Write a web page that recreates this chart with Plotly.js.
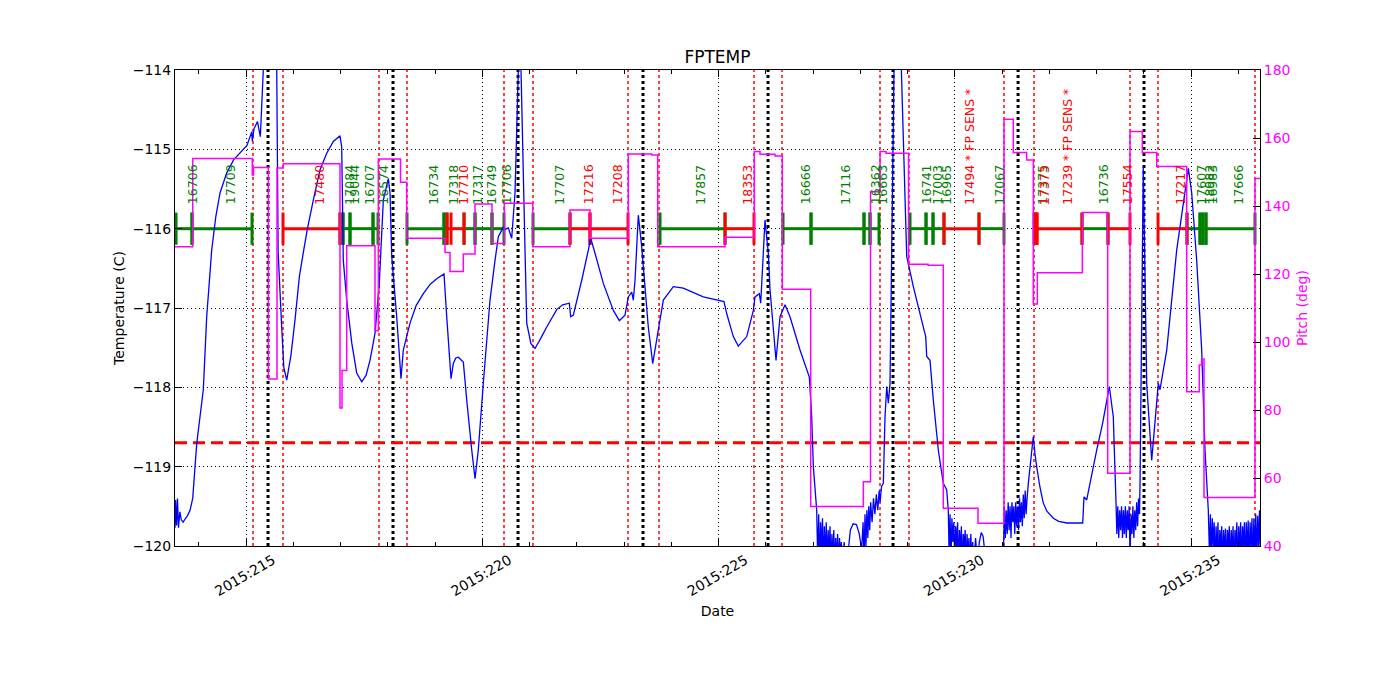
<!DOCTYPE html>
<html><head><meta charset="utf-8">
<script src="https://cdn.plot.ly/plotly-3.0.1.min.js"></script>
<style>body{margin:0;background:#fff}#chart{width:1400px;height:700px}</style>
</head><body><div id="chart"></div>
<script>
// ---- axis limits / constants ----
const xRange = [213.497, 236.46];
const yRange = [-120, -114];
const pitchRange = [40, 180];
const tempLimit = -118.7;
const obsLevel = -116;
const labelBase = -115.71;
const yearPrefix = '2015:';

// ---- perigee times (black dotted) and radiation zone boundaries (red dotted) ----
const perigeeDays = [215.466, 218.111, 220.757, 223.402, 226.048, 228.693, 231.34, 234.005];
const radzoneDays = [215.148, 215.783, 217.815, 218.407, 220.460, 221.074, 223.085, 223.741,
  225.751, 226.344, 228.418, 229.032, 231.042, 231.677, 233.709, 234.302, 236.354];

// ---- observations ----
const obsStart = [213.519, 213.857, 215.783, 216.989, 217.053, 217.201, 217.688, 218.407, 219.190, 219.254,
  219.614, 219.847, 220.206, 221.074, 221.857, 222.280, 223.762, 225.138, 226.365, 226.958, 228.079, 228.206,
  229.053, 229.392, 229.540, 229.772, 230.513, 231.677, 231.698, 231.740, 232.693, 233.243, 234.302, 234.915,
  235.190, 235.250, 235.317];
const obsEnd = [213.857, 215.127, 216.989, 217.053, 217.201, 217.688, 217.794, 219.190, 219.254, 219.614,
  219.847, 220.206, 220.460, 221.857, 222.280, 223.085, 225.138, 225.751, 226.958, 228.079, 228.206, 228.397,
  229.392, 229.540, 229.772, 230.513, 231.042, 231.698, 231.740, 232.693, 233.243, 233.709, 234.915, 235.190,
  235.250, 235.317, 236.354];
const obsLabel = ['16706','17709','17480','17084','19044','16707','16574','16734','17318','17710',
  '17317','16749','17706','17707','17216','17208','17857','18353','16666','17116','16362','16663',
  '16741','17003','16965','17494 * FP SENS *','17067','17375','17373','17239 * FP SENS *','16736','17554','17217','17607',
  '18982','16983','17666'];
const obsKind = ['g','g','r','g','g','g','g','g','g','r',
  'g','g','g','g','r','r','g','r','g','g','g','g',
  'g','g','g','r','g','g','r','r','g','r','r','g',
  'g','g','g'];
const extraTickDays = [219.339];
const extraTickKind = ['r'];

// ---- pitch (deg), step function ----
const pitchDays = [213.497, 213.872, 215.133, 215.159, 215.472, 215.656, 215.789, 216.989, 217.032, 217.131,
  217.730, 217.800, 218.270, 218.401, 219.212, 219.317, 219.599, 219.847, 220.206, 220.467,
  221.068, 221.857, 222.280, 223.091, 223.586, 223.713, 225.138, 225.758, 225.878, 226.196,
  226.350, 226.951, 228.065, 228.217, 228.418, 228.545, 229.021, 229.434, 229.757, 230.492,
  231.042, 231.239, 231.522, 231.662, 231.747, 232.700, 233.237, 233.709, 233.969, 234.274,
  234.909, 235.175, 235.226, 235.275, 236.354, 236.46];
const pitchVals = [128.0, 154.0, 149.1, 151.3, 89.1, 151.2, 152.4, 80.6, 91.6, 128.3,
  103.3, 153.8, 147.0, 130.5, 126.3, 120.7, 125.9, 140.6, 129.0, 140.8,
  128.0, 138.8, 130.5, 155.3, 155.0, 128.0, 130.8, 156.0, 155.2, 154.7,
  115.5, 51.6, 58.9, 144.2, 156.0, 155.5, 122.9, 122.6, 51.1, 46.7,
  165.5, 155.7, 153.5, 111.2, 120.4, 138.1, 61.4, 161.9, 155.7, 151.6,
  85.4, 93.2, 95.0, 54.3, 148.1, 148.1];

// ---- FPTEMP (C) as [day, value] ----
const tempStart = [[213.497,-119.77],[213.51,-119.42],[213.53,-119.74],[213.55,-119.40],[213.57,-119.77],[213.60,-119.57],
  [213.63,-119.67],[213.67,-119.70],[213.71,-119.66],[213.76,-119.62],[213.815,-119.55],[213.872,-119.40],[213.957,-118.71],
  [214.096,-118.03],[214.168,-117.11],[214.274,-116.27],[214.36,-115.85],[214.45,-115.55],[214.59,-115.30],[214.74,-115.13],
  [215.02,-114.95],[215.121,-114.78],[215.133,-114.90],[215.169,-114.74],[215.243,-114.65],[215.303,-114.84],[215.366,-114.0],
  [215.40,-113.0],[215.62,-113.0],[215.650,-114.0],[215.68,-116.3],[215.76,-117.3],[215.80,-117.75],[215.861,-117.91],
  [215.95,-117.6],[216.037,-117.15],[216.13,-116.6],[216.213,-116.3],[216.30,-116.0],[216.424,-115.64],[216.566,-115.26],
  [216.708,-115.05],[216.848,-114.90],[216.989,-114.83],[217.025,-114.97],[217.059,-116.4],[217.131,-116.90],[217.24,-117.45],
  [217.343,-117.82],[217.449,-117.93],[217.54,-117.85],[217.624,-117.66],[217.730,-117.32],[217.821,-116.69],[217.906,-115.64],
  [218.012,-115.37],[218.048,-115.55],[218.084,-116.35],[218.189,-117.11],[218.280,-117.89],[218.329,-117.53],[218.471,-117.19],
  [218.60,-116.97],[218.752,-116.82],[218.90,-116.70],[219.036,-116.63],[219.190,-116.57],[219.248,-117.11],[219.339,-117.89],
  [219.387,-117.70],[219.44,-117.63],[219.493,-117.62],[219.599,-117.68],[219.671,-118.16],[219.777,-118.79],[219.847,-119.15],
  [219.916,-118.79],[220.022,-117.95],[220.164,-116.90],[220.270,-116.40],[220.340,-116.10],[220.446,-115.98],[220.481,-116.01],
  [220.551,-115.99],[220.623,-116.12],[220.693,-115.55],[220.763,-114.0],[220.78,-113.0],[220.80,-113.0],[220.82,-114.0],
  [220.91,-116.4],[220.941,-117.19],[221.03,-117.45],[221.116,-117.51],[221.24,-117.38],[221.364,-117.24],[221.576,-117.02],
  [221.70,-116.96],[221.842,-116.94],[221.872,-117.11],[221.927,-117.09],[222.105,-116.65],[222.245,-116.27],[222.295,-116.12],
  [222.386,-116.31],[222.562,-116.69],[222.774,-117.03],[222.901,-117.16],[223.021,-117.09],[223.091,-116.86],[223.163,-116.80],
  [223.197,-116.90],[223.233,-116.65],[223.303,-115.83],[223.375,-116.23],[223.409,-116.48],[223.514,-117.24],[223.607,-117.70],
  [223.692,-117.40],[223.832,-116.90],[224.044,-116.73],[224.255,-116.75],[224.678,-116.86],[225.116,-116.92],[225.173,-117.07],
  [225.313,-117.36],[225.419,-117.48],[225.597,-117.36],[225.737,-117.03],[225.772,-116.86],[225.864,-116.82],[225.893,-116.94],
  [225.984,-115.89],[226.054,-116.31],[226.090,-116.77],[226.217,-117.66],[226.302,-117.11],[226.407,-116.96],[226.513,-117.11],
  [226.725,-117.53],[226.922,-117.87],[226.972,-118.37],[227.007,-119.0],[227.078,-119.55]];
const noiseA = [[227.10,-120.2],[227.12,-119.6],[227.14,-120.3],[227.16,-119.7],[227.18,-120.1],[227.20,-119.65],[227.22,-120.3],
  [227.24,-119.75],[227.26,-120.2],[227.28,-119.7],[227.30,-120.3],[227.32,-119.8],[227.34,-120.1],[227.36,-119.75],[227.38,-120.3],
  [227.40,-119.85],[227.42,-120.2],[227.44,-119.8],[227.46,-120.3],[227.48,-119.9],[227.50,-120.2],[227.52,-119.85],[227.54,-120.3],
  [227.56,-119.9],[227.58,-120.1],[227.60,-119.95],[227.62,-120.3],[227.66,-119.95],[227.70,-120.3],[227.74,-120.1],[227.79,-119.8],
  [227.85,-119.72],[227.92,-119.73],[227.98,-119.85],[228.03,-120.05],[228.06,-119.7],[228.08,-120.2],[228.10,-119.6],[228.12,-120.0],
  [228.14,-119.55],[228.16,-119.9],[228.18,-119.5],[228.20,-119.8],[228.22,-119.45],[228.25,-119.7],[228.28,-119.4],[228.31,-119.6],
  [228.34,-119.35],[228.37,-119.55],[228.40,-119.3],[228.42,-119.45],[228.45,-119.25]];
const tempMid1 = [[228.488,-119.21],[228.524,-118.37],[228.560,-117.99],[228.594,-118.20],[228.630,-117.95],[228.666,-116.27],
  [228.714,-114.0],[228.74,-113.0],[228.84,-113.0],[228.87,-114.0],[228.983,-116.35],[229.123,-116.73],[229.335,-117.24],
  [229.385,-117.36],[229.406,-117.61],[229.476,-117.66],[229.546,-118.16],[229.652,-118.79],[229.757,-119.21],[229.829,-119.29],
  [229.863,-119.55]];
const noiseB = [[229.88,-120.1],[229.90,-119.6],[229.92,-120.2],[229.94,-119.65],[229.96,-119.95],[229.98,-119.7],[230.00,-120.2],
  [230.02,-119.75],[230.04,-120.0],[230.06,-119.7],[230.08,-120.3],[230.10,-119.8],[230.12,-120.1],[230.14,-119.75],[230.16,-120.3],
  [230.18,-119.85],[230.20,-120.0],[230.22,-119.8],[230.24,-120.3],[230.26,-119.85],[230.28,-120.1],[230.30,-119.9],[230.32,-120.3],
  [230.34,-119.85],[230.36,-120.2],[230.38,-119.95],[230.40,-120.3],[230.44,-119.9],[230.48,-120.2],[230.52,-119.95],[230.56,-119.83],
  [230.60,-119.88],[230.64,-120.1],[230.68,-120.4],[230.95,-120.4],[231.03,-120.1],[231.05,-119.5],[231.07,-119.9],[231.09,-119.55],
  [231.11,-119.85],[231.13,-119.45],[231.15,-119.8],[231.17,-119.5],[231.19,-119.9],[231.21,-119.45],[231.23,-119.7],[231.25,-119.5],
  [231.27,-119.85],[231.29,-119.45],[231.31,-119.75],[231.33,-119.5],[231.35,-119.8],[231.37,-119.4],[231.39,-119.7],[231.41,-119.45],
  [231.43,-119.75],[231.45,-119.35],[231.47,-119.65],[231.49,-119.3],[231.51,-119.6],[231.53,-119.4]];
const tempMid2 = [[231.557,-119.21],[231.662,-118.62],[231.70,-118.85],[231.734,-119.0],[231.80,-119.25],[231.874,-119.46],
  [231.95,-119.56],[232.086,-119.65],[232.20,-119.69],[232.369,-119.71],[232.708,-119.71],[232.735,-119.38],[232.792,-119.42],
  [233.004,-118.79],[233.13,-118.45],[233.271,-117.99],[233.355,-118.37],[233.413,-119.46]];
const noiseC = [[233.43,-119.85],[233.45,-119.5],[233.47,-119.9],[233.49,-119.55],[233.51,-119.8],[233.53,-119.5],[233.55,-119.9],
  [233.57,-119.55],[233.59,-119.85],[233.61,-119.5],[233.63,-119.9],[233.65,-119.55],[233.67,-119.8],[233.69,-119.5],[233.71,-120.1],
  [233.73,-119.6],[233.75,-119.85],[233.77,-119.5],[233.79,-119.9],[233.81,-119.55],[233.83,-119.8],[233.85,-119.45],[233.87,-119.75],
  [233.89,-119.4],[233.91,-119.6]];
const tempMid3 = [[233.921,-119.21],[233.99,-115.22],[234.062,-117.95],[234.168,-118.92],[234.308,-117.95],[234.344,-118.03],
  [234.486,-117.53],[234.697,-116.27],[234.943,-115.24],[235.015,-115.55],[235.120,-116.40],[235.226,-117.53],[235.296,-118.79],
  [235.366,-119.55]];
const noiseD = [[235.39,-120.1],[235.41,-119.6],[235.43,-120.2],[235.45,-119.65],[235.47,-120.0],[235.49,-119.7],[235.51,-120.3],
  [235.53,-119.75],[235.55,-120.1],[235.57,-119.7],[235.59,-120.3],[235.61,-119.8],[235.63,-120.0],[235.65,-119.75],[235.67,-120.3],
  [235.69,-119.8],[235.71,-120.1],[235.73,-119.78],[235.75,-120.3],[235.77,-119.8],[235.79,-120.0],[235.81,-119.75],[235.83,-120.3],
  [235.85,-119.8],[235.87,-120.1],[235.89,-119.75],[235.91,-120.3],[235.93,-119.8],[235.95,-120.0],[235.97,-119.7],[235.99,-120.3],
  [236.01,-119.75],[236.03,-120.1],[236.05,-119.7],[236.07,-120.3],[236.09,-119.75],[236.11,-120.0],[236.13,-119.7],[236.15,-120.3],
  [236.17,-119.7],[236.19,-120.1],[236.21,-119.68],[236.23,-120.3],[236.25,-119.7],[236.27,-120.0],[236.29,-119.65],[236.31,-120.3],
  [236.33,-119.65],[236.35,-120.1],[236.37,-119.6],[236.39,-120.2],[236.41,-119.62],[236.43,-120.0],[236.45,-119.55],[236.47,-120.2]];

const tempPoints = [].concat(tempStart, noiseA, tempMid1, noiseB, tempMid2, noiseC, tempMid3, noiseD);

// ---- styles ----
const GREEN = '#008000', RED = '#ff0000', BLUE = '#0000ff', MAGENTA = '#ff00ff';
const kindColor = {g: GREEN, r: RED};

function vlines(days) {
  const x = [], y = [];
  days.forEach(d => { x.push(d, d, null); y.push(yRange[0], yRange[1], null); });
  return {x, y};
}

const traces = [];
const rz = vlines(radzoneDays);
traces.push({x: rz.x, y: rz.y, mode: 'lines', line: {color: 'rgba(255,0,0,0.75)', width: 2, dash: '3px,3px'}, hoverinfo: 'skip'});
const pg = vlines(perigeeDays);
traces.push({x: pg.x, y: pg.y, mode: 'lines', line: {color: 'black', width: 3, dash: '3px,3px'}, hoverinfo: 'skip'});
traces.push({x: xRange, y: [tempLimit, tempLimit], mode: 'lines', line: {color: RED, width: 3, dash: '12px,6px'}, hoverinfo: 'skip'});

['g', 'r'].forEach(k => {
  const x = [], y = [];
  obsStart.forEach((s, i) => { if (obsKind[i] === k) { x.push(s, obsEnd[i], null); y.push(obsLevel, obsLevel, null); } });
  traces.push({x, y, mode: 'lines+markers', line: {color: kindColor[k], width: 3},
    marker: {symbol: 'line-ns', size: 23, color: kindColor[k], line: {width: 3, color: kindColor[k]}}, hoverinfo: 'skip'});
});
traces.push({x: extraTickDays, y: extraTickDays.map(() => obsLevel), mode: 'markers',
  marker: {symbol: 'line-ns', size: 23, line: {width: 3, color: extraTickKind.map(k => kindColor[k])}}, hoverinfo: 'skip'});

traces.push({x: tempPoints.map(p => p[0]), y: tempPoints.map(p => p[1]), mode: 'lines',
  line: {color: BLUE, width: 1.3, simplify: false}, hoverinfo: 'skip'});
traces.push({x: pitchDays, y: pitchVals, yaxis: 'y2', mode: 'lines',
  line: {color: MAGENTA, width: 1.5, shape: 'hv'}, hoverinfo: 'skip'});

const annotations = obsLabel.map((t, i) => ({
  x: (obsStart[i] + obsEnd[i]) / 2, y: labelBase, xref: 'x', yref: 'y',
  text: t, textangle: -90, xanchor: 'left', yanchor: 'bottom', showarrow: false,
  font: {size: 12.5, color: kindColor[obsKind[i]], family: 'DejaVu Sans'}, borderpad: 0
}));

const FONT = 'DejaVu Sans';
const layout = {
  width: 1400, height: 700,
  margin: {l: 175, r: 140, t: 70, b: 154, pad: 0},
  paper_bgcolor: 'white', plot_bgcolor: 'white',
  showlegend: false,
  font: {family: FONT, size: 14, color: 'black'},
  title: {text: 'FPTEMP', font: {size: 17, family: FONT, color: 'black'}, x: 0.5, xref: 'paper', y: 1 - 57 / 700, yref: 'container', yanchor: 'middle'},
  xaxis: {range: xRange, tick0: 215, dtick: 5, tickprefix: yearPrefix, tickangle: -30, ticklabelshift: 27,
    ticks: 'inside', ticklen: 7, tickcolor: 'black', showline: true, linecolor: 'black', linewidth: 1, mirror: 'ticks',
    showgrid: true, gridcolor: 'black', griddash: '1px,3px', gridwidth: 1, zeroline: false,
    minor: {dtick: 1, tick0: 215, ticks: 'inside', ticklen: 4, tickcolor: 'black', showgrid: false},
    tickfont: {size: 14}, title: {text: 'Date', font: {size: 14}, standoff: 8}},
  yaxis: {range: yRange, dtick: 1, ticks: 'inside', ticklen: 7, tickcolor: 'black', showline: true, linecolor: 'black', linewidth: 1,
    showgrid: true, gridcolor: 'black', griddash: '1px,3px', gridwidth: 1, zeroline: false,
    tickfont: {size: 14}, title: {text: 'Temperature (C)', font: {size: 14}, standoff: 4}},
  yaxis2: {range: pitchRange, dtick: 20, overlaying: 'y', side: 'right', ticks: 'inside', ticklen: 7, tickcolor: 'black',
    showline: true, linecolor: 'black', linewidth: 1, showgrid: false, zeroline: false,
    tickfont: {size: 14, color: MAGENTA}, title: {text: 'Pitch (deg)', font: {size: 14, color: MAGENTA}, standoff: 7}},
  annotations: annotations
};

Plotly.newPlot('chart', traces, layout, {displayModeBar: false, staticPlot: true});
</script>
</body></html>
